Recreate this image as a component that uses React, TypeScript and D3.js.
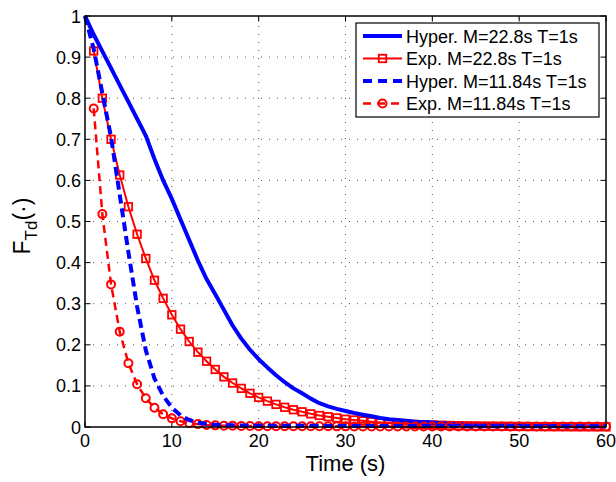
import React from "react";
import * as d3 from "d3";

// ---- data ----
const xTicks = [0, 10, 20, 30, 40, 50, 60];
const yTicks = [0, 0.1, 0.2, 0.3, 0.4, 0.5, 0.6, 0.7, 0.8, 0.9, 1];
const yTickLabels = ["0", "0.1", "0.2", "0.3", "0.4", "0.5", "0.6", "0.7", "0.8", "0.9", "1"];

// Hyper. M=22.8s T=1s, t = 0..60
const hyper228 = [
  1.0, 0.955, 0.914, 0.873, 0.832, 0.791, 0.75, 0.709, 0.652, 0.6,
  0.555, 0.505, 0.455, 0.405, 0.36, 0.323, 0.285, 0.247, 0.215, 0.188,
  0.165, 0.145, 0.126, 0.109, 0.094, 0.082, 0.069, 0.058, 0.05, 0.044,
  0.039, 0.034, 0.03, 0.026, 0.022, 0.019, 0.017, 0.015, 0.013, 0.012,
  0.011, 0.009, 0.008, 0.007, 0.006, 0.0055, 0.005, 0.0045, 0.004, 0.0036,
  0.0033, 0.003, 0.0027, 0.0025, 0.0023, 0.0021, 0.002, 0.0018, 0.0017, 0.0016,
  0.0015,
];
// Exp. M=22.8s T=1s, t = 1..60
const exp228 = [
  0.915, 0.8, 0.7, 0.613, 0.536, 0.469, 0.41, 0.357, 0.313, 0.273,
  0.238, 0.208, 0.182, 0.16, 0.14, 0.122, 0.107, 0.094, 0.082, 0.072,
  0.063, 0.055, 0.048, 0.042, 0.037, 0.032, 0.028, 0.025, 0.022, 0.019,
  0.017, 0.015, 0.013, 0.011, 0.01, 0.0085, 0.0075, 0.0065, 0.0057, 0.005,
  0.0044, 0.0038, 0.0033, 0.0029, 0.0026, 0.0022, 0.002, 0.0017, 0.0015, 0.0013,
  0.0012, 0.001, 0.0009, 0.0008, 0.0007, 0.0006, 0.0005, 0.0005, 0.0004, 0.0004,
];
// Hyper. M=11.84s T=1s, t = 0..60
const hyper1184 = [
  1.0, 0.92, 0.812, 0.705, 0.565, 0.425, 0.293, 0.187, 0.118, 0.076,
  0.047, 0.028, 0.017, 0.011, 0.0075, 0.0055, 0.0045, 0.004, 0.0036, 0.0033,
  0.0031, 0.003, 0.003, 0.0029, 0.0029, 0.0028, 0.0028, 0.0027, 0.0027, 0.0026,
  0.0026, 0.0025, 0.0025, 0.0025, 0.0024, 0.0024, 0.0024, 0.0023, 0.0023, 0.0023,
  0.0022, 0.0022, 0.0022, 0.0022, 0.0021, 0.0021, 0.0021, 0.0021, 0.002, 0.002,
  0.002, 0.002, 0.002, 0.0019, 0.0019, 0.0019, 0.0019, 0.0019, 0.0018, 0.0018,
  0.0018,
];
// Exp. M=11.84s T=1s, t = 1..60
const exp1184 = [
  0.775, 0.518, 0.347, 0.232, 0.155, 0.104, 0.07, 0.047, 0.031, 0.021,
  0.014, 0.01, 0.007, 0.005, 0.004, 0.003, 0.003, 0.0025, 0.0025, 0.002,
  0.002, 0.002, 0.0019, 0.0019, 0.0018, 0.0018, 0.0017, 0.0017, 0.0016, 0.0016,
  0.0015, 0.0015, 0.0015, 0.0014, 0.0014, 0.0014, 0.0013, 0.0013, 0.0013, 0.0012,
  0.0012, 0.0012, 0.0012, 0.0011, 0.0011, 0.0011, 0.0011, 0.001, 0.001, 0.001,
  0.001, 0.001, 0.001, 0.001, 0.001, 0.001, 0.001, 0.001, 0.001, 0.001,
];
const legendLabels = [
  "Hyper. M=22.8s T=1s",
  "Exp. M=22.8s T=1s",
  "Hyper. M=11.84s T=1s",
  "Exp. M=11.84s T=1s",
];

const W = 616;
const H = 482;
const L = 85, R = 606, T = 16, B = 427;
const FONT = "'Liberation Sans', Arial, Helvetica, sans-serif";
const BLUE = "#0000ff";
const RED = "#ff0000";

export default function App() {
  const x = d3.scaleLinear().domain([0, 60]).range([L, R]);
  const y = d3.scaleLinear().domain([0, 1]).range([B, T]);
  const line = d3
    .line<[number, number]>()
    .x((d) => x(d[0]))
    .y((d) => y(d[1]));

  const h228 = hyper228.map((v, i) => [i, v] as [number, number]);
  const h1184 = hyper1184.map((v, i) => [i, v] as [number, number]);
  const e228 = exp228.map((v, i) => [i + 1, v] as [number, number]);
  const e1184 = exp1184.map((v, i) => [i + 1, v] as [number, number]);

  const tick = 5.5;
  const legX0 = 363, legX1 = 402, legTextX = 406;
  const legRows = [36, 58.5, 81, 103.5];

  return (
    <svg
      width={W}
      height={H}
      style={{ position: "absolute", left: 0, top: 0, background: "#fff" }}
      fontFamily={FONT}
    >
      <rect x={0} y={0} width={W} height={H} fill="#fff" />
      {/* grid */}
      <g stroke="#555" strokeWidth={1} strokeDasharray="1,7">
        {xTicks.slice(1, -1).map((t) => (
          <line key={"gx" + t} x1={x(t)} x2={x(t)} y1={B} y2={T} />
        ))}
        {yTicks.slice(1, -1).map((t) => (
          <line key={"gy" + t} x1={L} x2={R} y1={y(t)} y2={y(t)} />
        ))}
      </g>
      {/* ticks */}
      <g stroke="#000" strokeWidth={1}>
        {xTicks.map((t) => (
          <g key={"tx" + t}>
            <line x1={x(t)} x2={x(t)} y1={B} y2={B - tick} />
            <line x1={x(t)} x2={x(t)} y1={T} y2={T + tick} />
          </g>
        ))}
        {yTicks.map((t) => (
          <g key={"ty" + t}>
            <line x1={L} x2={L + tick} y1={y(t)} y2={y(t)} />
            <line x1={R} x2={R - tick} y1={y(t)} y2={y(t)} />
          </g>
        ))}
      </g>

      {/* series */}
      <g fill="none">
        <path d={line(e228) || ""} stroke={RED} strokeWidth={2} />
        {e228.map((d, i) => (
          <rect
            key={"sq" + i}
            x={x(d[0]) - 3.75}
            y={y(d[1]) - 3.75}
            width={7.5}
            height={7.5}
            stroke={RED}
            strokeWidth={1.8}
          />
        ))}
        <path d={line(h228) || ""} stroke={BLUE} strokeWidth={4} strokeLinejoin="round" />
        <path d={line(e1184) || ""} stroke={RED} strokeWidth={2.5} strokeDasharray="8,5" />
        {e1184.map((d, i) => (
          <circle
            key={"ci" + i}
            cx={x(d[0])}
            cy={y(d[1])}
            r={4}
            stroke={RED}
            strokeWidth={2}
          />
        ))}
        <path d={line(h1184) || ""} stroke={BLUE} strokeWidth={4} strokeDasharray="9,5" />
      </g>

      {/* axes box */}
      <rect x={L} y={T} width={R - L} height={B - T} fill="none" stroke="#000" strokeWidth={1.5} />

      {/* tick labels */}
      <g fontSize={18} fill="#000">
        {xTicks.map((t) => (
          <text key={"lx" + t} x={x(t)} y={447} textAnchor="middle">
            {t}
          </text>
        ))}
        {yTicks.map((t, i) => (
          <text key={"ly" + t} x={L - 4} y={y(t) + 6.5} textAnchor="end">
            {yTickLabels[i]}
          </text>
        ))}
      </g>

      {/* axis labels */}
      <text x={(L + R) / 2} y={471} textAnchor="middle" fontSize={22} fill="#000">
        Time (s)
      </text>
      <text transform="translate(30,226) rotate(-90)" textAnchor="middle" fontSize={23} fill="#000">
        F
        <tspan fontSize={17} dy={7}>Td</tspan>
        <tspan dy={-7}>(·)</tspan>
      </text>

      {/* legend */}
      <rect x={356} y={23} width={243} height={94} fill="#fff" stroke="#000" strokeWidth={1.2} />
      <g fill="none">
        <line x1={legX0} x2={legX1} y1={legRows[0]} y2={legRows[0]} stroke={BLUE} strokeWidth={4} />
        <line x1={legX0} x2={legX1} y1={legRows[1]} y2={legRows[1]} stroke={RED} strokeWidth={2} />
        <rect
          x={(legX0 + legX1) / 2 - 3.75}
          y={legRows[1] - 3.75}
          width={7.5}
          height={7.5}
          stroke={RED}
          strokeWidth={1.8}
        />
        <line
          x1={legX0}
          x2={legX1}
          y1={legRows[2]}
          y2={legRows[2]}
          stroke={BLUE}
          strokeWidth={4}
          strokeDasharray="9,6"
        />
        <line
          x1={legX0}
          x2={legX1}
          y1={legRows[3]}
          y2={legRows[3]}
          stroke={RED}
          strokeWidth={2.5}
          strokeDasharray="8,6"
        />
        <circle cx={(legX0 + legX1) / 2} cy={legRows[3]} r={4} stroke={RED} strokeWidth={2} />
      </g>
      <g fontSize={18} fill="#000">
        {legendLabels.map((s, i) => (
          <text key={s} x={legTextX} y={legRows[i] + 6.5}>
            {s}
          </text>
        ))}
      </g>
    </svg>
  );
}
